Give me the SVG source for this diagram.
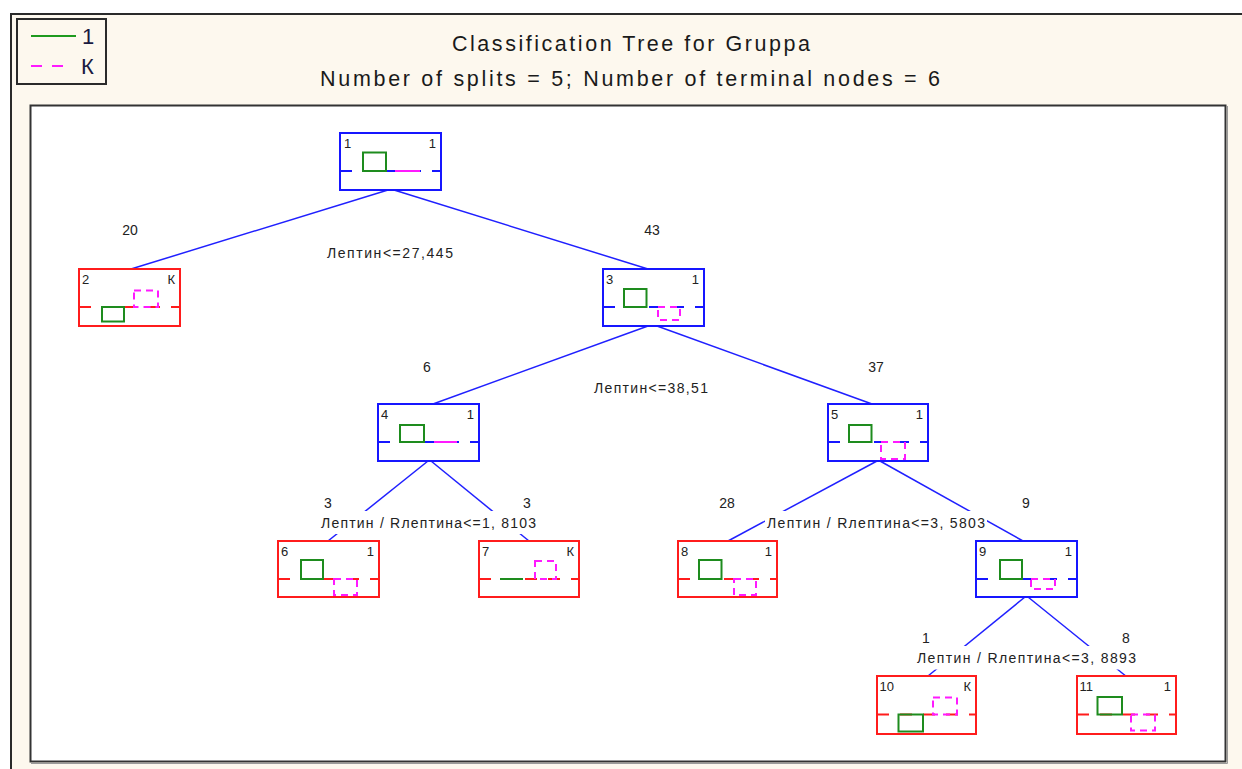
<svg xmlns="http://www.w3.org/2000/svg" width="1242" height="769" viewBox="0 0 1242 769">
  <defs>
    <style>
      .frame { fill: #fdf8ee; stroke: #2a2a2a; stroke-width: 2; }
      .plot { fill: #ffffff; stroke: #333333; stroke-width: 2; }
      .plotshade { fill: none; stroke: #9a9a9a; stroke-width: 1; }
      .legend { fill: none; stroke: #2a2a2a; stroke-width: 2; }
      .title { font-family: "Liberation Sans", Arial, sans-serif; font-size: 21.5px; fill: #1a1a1a; }
      .lg { font-family: "Liberation Sans", Arial, sans-serif; font-size: 22px; fill: #1a1a40; }
      .box { fill: #ffffff; stroke-width: 2; }
      .blue { stroke: #1616ff; }
      .red { stroke: #ff1c1c; }
      .base { fill: none; stroke-width: 2; stroke-dasharray: 12 11; }
      .g { fill: none; stroke: #1e8c1e; stroke-width: 2; }
      .m { fill: none; stroke: #ff1aff; stroke-width: 2; stroke-dasharray: 7 5; }
      .ms { fill: none; stroke: #ff1aff; stroke-width: 2; }
      .nt { font-family: "Liberation Sans", Arial, sans-serif; font-size: 13px; fill: #222222; }
      .cnt { font-family: "Liberation Sans", Arial, sans-serif; font-size: 14px; fill: #222222; text-anchor: middle; }
      .split { font-family: "Liberation Sans", Arial, sans-serif; font-size: 14px; fill: #222222; }
      .conn line { stroke: #2020ff; stroke-width: 1.5; }
      .mask { fill: #ffffff; }
    </style>
  </defs>

  <!-- page background and frames -->
  <rect x="0" y="0" width="1242" height="769" fill="#ffffff"/>
  <rect class="frame" x="11" y="14" width="1240" height="770"/>
  <rect class="plot" x="30.5" y="105.5" width="1195" height="656"/>
  <polyline class="plotshade" points="1227.5,106 1227.5,763.5 31,763.5"/>

  <!-- legend -->
  <g id="legend">
    <rect class="legend" x="17" y="19" width="89" height="65"/>
    <line x1="31" y1="36" x2="76" y2="36" stroke="#1e9a1e" stroke-width="2"/>
    <text class="lg" x="82" y="44">1</text>
    <line x1="31" y1="66" x2="65" y2="66" stroke="#ff1aff" stroke-width="2" stroke-dasharray="11 10"/>
    <text class="lg" x="81" y="74">К</text>
  </g>

  <!-- title -->
  <g id="title">
    <text class="title" x="452" y="51" textLength="358" lengthAdjust="spacing">Classification Tree for Gruppa</text>
    <text class="title" x="320" y="86" textLength="620" lengthAdjust="spacing">Number of splits = 5; Number of terminal nodes = 6</text>
  </g>

  <!-- connectors -->
  <g id="connectors" class="conn">
    <line x1="388" y1="190" x2="131" y2="269"/>
    <line x1="394" y1="190" x2="648" y2="269"/>
    <line x1="648" y1="326" x2="433" y2="404"/>
    <line x1="657" y1="326" x2="872" y2="404"/>
    <line x1="428" y1="461" x2="328" y2="541"/>
    <line x1="431" y1="461" x2="529" y2="541"/>
    <line x1="877" y1="461" x2="728" y2="541"/>
    <line x1="880" y1="461" x2="1023" y2="541"/>
    <line x1="1025" y1="597" x2="928" y2="676"/>
    <line x1="1028" y1="597" x2="1127" y2="677"/>
  </g>

  <!-- branch counts -->
  <g id="counts">
    <text class="cnt" x="130" y="235">20</text>
    <text class="cnt" x="652" y="235">43</text>
    <text class="cnt" x="427" y="372">6</text>
    <text class="cnt" x="876" y="372">37</text>
    <text class="cnt" x="328" y="508">3</text>
    <text class="cnt" x="527" y="508">3</text>
    <text class="cnt" x="727" y="508">28</text>
    <text class="cnt" x="1026" y="508">9</text>
    <text class="cnt" x="926" y="643">1</text>
    <text class="cnt" x="1126" y="643">8</text>
  </g>

  <!-- split conditions -->
  <g id="splits">
    <text class="split" x="327" y="258" textLength="126" lengthAdjust="spacing">Лептин&lt;=27,445</text>
    <text class="split" x="594" y="393" textLength="114" lengthAdjust="spacing">Лептин&lt;=38,51</text>
    <rect class="mask" x="319" y="511" width="219" height="23"/>
    <text class="split" x="321" y="528" textLength="215" lengthAdjust="spacing">Лептин / Rлептина&lt;=1, 8103</text>
    <rect class="mask" x="765" y="511" width="222" height="23"/>
    <text class="split" x="767" y="528" textLength="218" lengthAdjust="spacing">Лептин /  Rлептина&lt;=3, 5803</text>
    <rect class="mask" x="915" y="646" width="223" height="23.5"/>
    <text class="split" x="917" y="663" textLength="219" lengthAdjust="spacing">Лептин /  Rлептина&lt;=3, 8893</text>
  </g>

  <!-- node 1 -->
  <g id="node1" transform="translate(340,133)">
    <rect class="box blue" x="0" y="0" width="101" height="57"/>
    <line class="base blue" x1="0" y1="38" x2="101" y2="38"/>
    <rect class="g" x="23" y="19.5" width="23" height="18.5"/>
    <line class="ms" x1="55" y1="38" x2="80" y2="38"/>
    <text class="nt" x="4" y="15">1</text>
    <text class="nt" x="96" y="15" text-anchor="end">1</text>
  </g>

  <!-- node 2 -->
  <g id="node2" transform="translate(79,269)">
    <rect class="box red" x="0" y="0" width="101" height="57"/>
    <line class="base red" x1="0" y1="38" x2="101" y2="38"/>
    <rect class="g" x="23" y="38" width="22" height="14.5"/>
    <rect class="m" x="55" y="21.5" width="24" height="16.5"/>
    <text class="nt" x="3" y="15">2</text>
    <text class="nt" x="96" y="15" text-anchor="end">К</text>
  </g>

  <!-- node 3 -->
  <g id="node3" transform="translate(603,269)">
    <rect class="box blue" x="0" y="0" width="101" height="57"/>
    <line class="base blue" x1="0" y1="38" x2="101" y2="38"/>
    <rect class="g" x="21" y="20" width="22.5" height="18"/>
    <rect class="m" x="55" y="38" width="22" height="13"/>
    <text class="nt" x="3" y="15">3</text>
    <text class="nt" x="96" y="15" text-anchor="end">1</text>
  </g>

  <!-- node 4 -->
  <g id="node4" transform="translate(378,404)">
    <rect class="box blue" x="0" y="0" width="101" height="57"/>
    <line class="base blue" x1="0" y1="38" x2="101" y2="38"/>
    <rect class="g" x="22" y="21" width="24" height="17"/>
    <line class="ms" x1="56" y1="38" x2="79" y2="38"/>
    <text class="nt" x="3" y="15">4</text>
    <text class="nt" x="96" y="15" text-anchor="end">1</text>
  </g>

  <!-- node 5 -->
  <g id="node5" transform="translate(828,404)">
    <rect class="box blue" x="0" y="0" width="100" height="57"/>
    <line class="base blue" x1="0" y1="38" x2="100" y2="38"/>
    <rect class="g" x="21" y="21" width="22.5" height="17"/>
    <rect class="m" x="53" y="38" width="24" height="17"/>
    <text class="nt" x="3" y="15">5</text>
    <text class="nt" x="95" y="15" text-anchor="end">1</text>
  </g>

  <!-- node 6 -->
  <g id="node6" transform="translate(278,541)">
    <rect class="box red" x="0" y="0" width="101" height="56"/>
    <line class="base red" x1="0" y1="38" x2="101" y2="38"/>
    <rect class="g" x="23" y="19" width="22" height="19"/>
    <rect class="m" x="56" y="38" width="23" height="16"/>
    <text class="nt" x="3" y="15">6</text>
    <text class="nt" x="96" y="15" text-anchor="end">1</text>
  </g>

  <!-- node 7 -->
  <g id="node7" transform="translate(479,541)">
    <rect class="box red" x="0" y="0" width="100" height="56"/>
    <line class="base red" x1="0" y1="38" x2="100" y2="38"/>
    <line class="g" x1="21" y1="38" x2="44" y2="38"/>
    <rect class="m" x="56" y="20" width="21" height="18"/>
    <text class="nt" x="3" y="15">7</text>
    <text class="nt" x="95" y="15" text-anchor="end">К</text>
  </g>

  <!-- node 8 -->
  <g id="node8" transform="translate(678,541)">
    <rect class="box red" x="0" y="0" width="99" height="56"/>
    <line class="base red" x1="0" y1="38" x2="99" y2="38"/>
    <rect class="g" x="21" y="19" width="22.5" height="19"/>
    <rect class="m" x="56" y="38" width="22" height="16"/>
    <text class="nt" x="3" y="15">8</text>
    <text class="nt" x="94" y="15" text-anchor="end">1</text>
  </g>

  <!-- node 9 -->
  <g id="node9" transform="translate(976,541)">
    <rect class="box blue" x="0" y="0" width="101" height="56"/>
    <line class="base blue" x1="0" y1="38" x2="101" y2="38"/>
    <rect class="g" x="24" y="19" width="22" height="19"/>
    <rect class="m" x="55" y="38" width="24" height="10"/>
    <text class="nt" x="3" y="15">9</text>
    <text class="nt" x="96" y="15" text-anchor="end">1</text>
  </g>

  <!-- node 10 -->
  <g id="node10" transform="translate(877,676)">
    <rect class="box red" x="0" y="0" width="99" height="58"/>
    <line class="base red" x1="0" y1="38.5" x2="99" y2="38.5"/>
    <rect class="g" x="21.5" y="38.5" width="24.5" height="17"/>
    <rect class="m" x="56" y="21.5" width="24" height="17"/>
    <text class="nt" x="2.5" y="15">10</text>
    <text class="nt" x="94" y="15" text-anchor="end">К</text>
  </g>

  <!-- node 11 -->
  <g id="node11" transform="translate(1077,676)">
    <rect class="box red" x="0" y="0" width="99" height="58"/>
    <line class="base red" x1="0" y1="38.5" x2="99" y2="38.5"/>
    <rect class="g" x="20.5" y="21" width="24.5" height="17.5"/>
    <rect class="m" x="54" y="38.5" width="24" height="16"/>
    <text class="nt" x="2.5" y="15">11</text>
    <text class="nt" x="94" y="15" text-anchor="end">1</text>
  </g>
</svg>
